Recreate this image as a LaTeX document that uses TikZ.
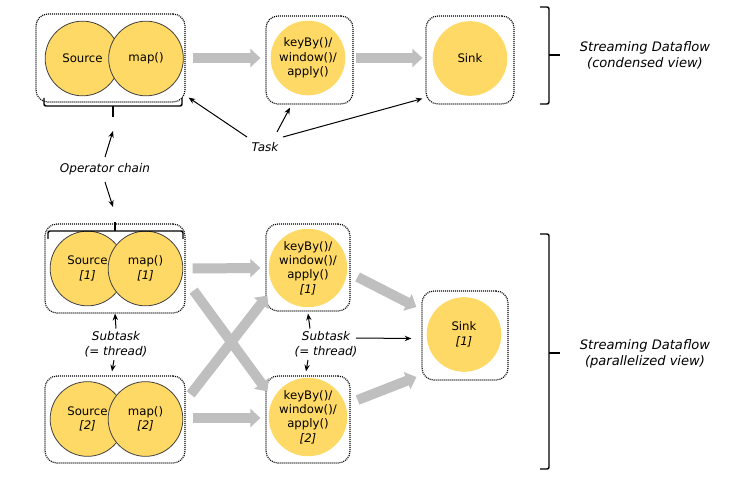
\documentclass[tikz,border=0pt]{standalone}
\usepackage{fontspec}
\setmainfont{DejaVu Sans}
\usetikzlibrary{arrows.meta,positioning}
\definecolor{opyellow}{HTML}{FFD966}
\definecolor{flowgray}{HTML}{BFBFBF}

\begin{document}
\begin{tikzpicture}[x=0.75pt,y=-0.75pt,
		opbox/.style 2 args={draw,line width=0.9pt,dash pattern=on 0.75pt off 0.75pt,rounded corners=9pt,
			minimum width=#1*0.75pt,minimum height=#2*0.75pt,inner sep=0pt},
		opnode/.style={circle,fill=opyellow,minimum size=56pt,inner sep=0pt,align=center,
			font=\fontsize{8.8}{10.8}\selectfont},
		chained/.style={opnode,draw=black!75,line width=0.6pt},
		lbl/.style={align=center,font=\fontsize{9}{11.25}\selectfont\itshape},
		viewlbl/.style={align=center,font=\fontsize{9.8}{12}\selectfont\itshape},
		flow/.style={draw=flowgray,line width=7.5pt,-{Triangle[length=7.5pt,width=13.5pt]}},
		ptr/.style={draw,line width=0.75pt,-{Stealth[length=5pt,width=4pt]}},
		brace/.style={draw,line width=1.1pt,rounded corners=1.5pt}]
		\useasboundingbox (0,0) rectangle (751,478);

		% condensed view
		\node[opbox={149}{88}] (chainA) at (110.5,58) {};
		\node[opbox={87}{88}] (keyA) at (309.5,60) {};
		\node[opbox={88}{88}] (sinkA) at (470,60) {};
		\node[chained] (srcA) at (82.5,58.5) {Source};
		\node[chained] (mapA) at (146,58.5) {map()};
		\node[opnode] (keyopA) at (308,58) {keyBy()/\\window()/\\apply()};
		\node[opnode] (sinkopA) at (470,58.5) {Sink};

		\path[flow] ([shift={(7,0)}]chainA.east) -- ([shift={(-5,-2)}]keyA.west);
		\path[flow] ([shift={(2,-2)}]keyA.east) -- ([shift={(-3,-2)}]sinkA.west);

		\path[brace] (44,98) -- (44,106) -- (182,106) -- (182,98);
		\path[brace] (113,106) -- (113,117);
		\coordinate (chainTipA) at (113,117);

		\node[lbl] (task) at (265,147) {Task};
		\path[ptr] ([shift={(-18,-10)}]task.center) -- ([shift={(3,-5)}]chainA.south east);
		\path[ptr] ([shift={(12,-15)}]task.center) -- ([shift={(-19.5,3)}]keyA.south);
		\path[ptr] ([shift={(18,-10)}]task.center) -- ([shift={(-3,-6)}]sinkA.south west);

		\path[brace] (540,7) -- (549,7) -- (549,104) -- (540,104);
		\path[brace] (549,55) -- (560,55);
		\node[viewlbl] (condensed) at (645,55.5) {Streaming Dataflow\\(condensed view)};

		\node[lbl] (opchain) at (105,169) {Operator chain};

		% parallelized view
		\node[opbox={140}{89}] (chainB) at (115,268.5) {};
		\node[opbox={140}{87}] (chainC) at (115,419.5) {};
		\node[opbox={84}{87}] (keyB) at (308,267.5) {};
		\node[opbox={84}{87}] (keyC) at (308,419.5) {};
		\node[opbox={86}{89}] (sinkB) at (465,335.5) {};
		\node[chained] (srcB) at (87.5,268.5) {Source\\\textit{[1]}};
		\node[chained] (mapB) at (145.5,268.5) {map()\\\textit{[1]}};
		\node[chained] (srcC) at (87.5,419) {Source\\\textit{[2]}};
		\node[chained] (mapC) at (145.5,419) {map()\\\textit{[2]}};
		\node[opnode] (keyopB) at (308,268) {keyBy()/\\window()/\\apply()\\\textit{[1]}};
		\node[opnode] (keyopC) at (308,417) {keyBy()/\\window()/\\apply()\\\textit{[2]}};
		\node[opnode] (sinkopB) at (464,334.5) {Sink\\\textit{[1]}};

		\path[flow] ([shift={(7,0)}]chainB.east) -- ([shift={(-5,0.5)}]keyB.west);
		\path[flow] ([shift={(7,-1.5)}]chainC.east) -- ([shift={(-5,-1.5)}]keyC.west);
		\path[flow] ([shift={(8,-23)}]chainB.south east) -- ([shift={(2,16)}]keyC.north west);
		\path[flow] ([shift={(5,19)}]chainC.north east) -- ([shift={(2,-16)}]keyB.south west);
		\path[flow] ([shift={(7,9.5)}]keyB.east) -- ([shift={(-5,-28.5)}]sinkB.west);
		\path[flow] ([shift={(7,-19.5)}]keyC.east) -- ([shift={(-5,41.5)}]sinkB.west);

		\path[brace] (48,239) -- (48,231) -- (183,231) -- (183,239);
		\path[brace] (115,231) -- (115,222);
		\coordinate (chainTipB) at (115,222);

		\path[ptr] ([shift={(0,-12)}]opchain.center) -- ([shift={(0,14)}]chainTipA);
		\path[ptr] ([shift={(0,13)}]opchain.center) -- ([shift={(-2,-15)}]chainTipB);

		\node[lbl] (subA) at (116,344.5) {Subtask\\(= thread)};
		\node[lbl] (subB) at (326,344.5) {Subtask\\(= thread)};
		\path[ptr] ([shift={(0,-16)}]subA.center) -- (chainB.south);
		\path[ptr] ([shift={(-2,15.5)}]subA.center) -- ([shift={(-3,-4)}]chainC.north);
		\path[ptr] ([shift={(-16,-16)}]subB.center) -- ([shift={(0,2)}]keyB.south);
		\path[ptr] ([shift={(-18,15.5)}]subB.center) -- ([shift={(-2,-4)}]keyC.north);
		\path[ptr] ([shift={(30,-6.5)}]subB.center) -- ([shift={(-10,3)}]sinkB.west);

		\path[brace] (540,234) -- (549,234) -- (549,469) -- (540,469);
		\path[brace] (549,353) -- (560,353);
		\node[viewlbl] (parallel) at (645,354) {Streaming Dataflow\\(parallelized view)};
	\end{tikzpicture}
\end{document}
